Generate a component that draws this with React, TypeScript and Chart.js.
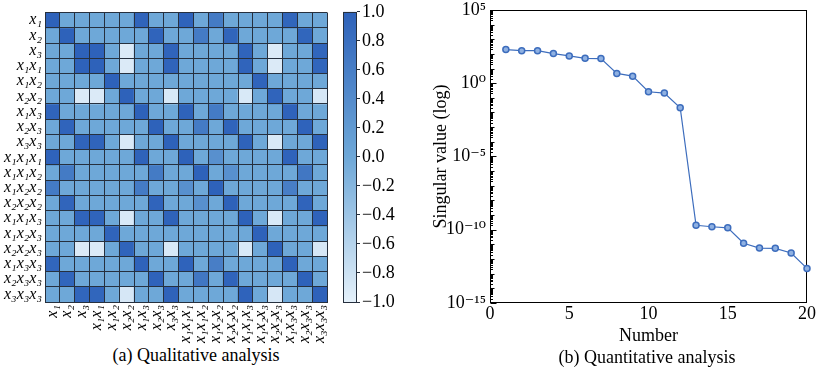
import React, { useEffect, useRef } from "react";
import { Chart, registerables } from "chart.js";

Chart.register(...registerables);

const SERIF = "'Liberation Serif', 'DejaVu Serif', 'Times New Roman', serif";

// ---------- Panel (a): qualitative analysis (correlation heatmap) ----------
const termLabels: string[] = [
  "x₁", "x₂", "x₃", "x₁x₁", "x₁x₂", "x₂x₂", "x₁x₃", "x₂x₃", "x₃x₃",
  "x₁x₁x₁", "x₁x₁x₂", "x₁x₂x₂", "x₂x₂x₂", "x₁x₁x₃", "x₁x₂x₃", "x₂x₂x₃",
  "x₁x₃x₃", "x₂x₃x₃", "x₃x₃x₃",
];

const corrRows: number[][] = [
  [1, 0, 0, 0, 0, 0, 0.97, 0, 0, 0.98, 0, 0.65, 0, 0, 0, 0, 0.95, 0, 0],
  [0, 1, 0, 0, 0, 0, 0, 0.97, 0, 0, 0.65, 0, 0.96, 0, 0, 0, 0, 0.95, 0],
  [0, 0, 1, 1, 0, -0.92, 0, 0, 0.97, 0, 0, 0, 0, 0.97, 0, -0.92, 0, 0, 0.95],
  [0, 0, 1, 1, 0, -0.92, 0, 0, 0.97, 0, 0, 0, 0, 0.97, 0, -0.92, 0, 0, 0.95],
  [0, 0, 0, 0, 1, 0, 0, 0, 0, 0, 0, 0, 0, 0, 0.97, 0, 0, 0, 0],
  [0, 0, -0.92, -0.92, 0, 1, 0, 0, -0.9, 0, 0, 0, 0, -0.9, 0, 0.97, 0, 0, -0.88],
  [0.97, 0, 0, 0, 0, 0, 1, 0, 0, 0.99, 0, 0.65, 0, 0, 0, 0, 0.98, 0, 0],
  [0, 0.97, 0, 0, 0, 0, 0, 1, 0, 0, 0.65, 0, 0.97, 0, 0, 0, 0, 0.98, 0],
  [0, 0, 0.97, 0.97, 0, -0.9, 0, 0, 1, 0, 0, 0, 0, 0.99, 0, -0.9, 0, 0, 0.99],
  [0.98, 0, 0, 0, 0, 0, 0.99, 0, 0, 1, 0, 0.35, 0, 0, 0, 0, 0.98, 0, 0],
  [0, 0.65, 0, 0, 0, 0, 0, 0.65, 0, 0, 1, 0, 0.35, 0, 0, 0, 0, 0.7, 0],
  [0.65, 0, 0, 0, 0, 0, 0.65, 0, 0, 0.35, 0, 1, 0, 0, 0, 0, 0.6, 0, 0],
  [0, 0.96, 0, 0, 0, 0, 0, 0.97, 0, 0, 0.35, 0, 1, 0, 0, 0, 0, 0.97, 0],
  [0, 0, 0.97, 0.97, 0, -0.9, 0, 0, 0.99, 0, 0, 0, 0, 1, 0, -0.9, 0, 0, 0.98],
  [0, 0, 0, 0, 0.97, 0, 0, 0, 0, 0, 0, 0, 0, 0, 1, 0, 0, 0, 0],
  [0, 0, -0.92, -0.92, 0, 0.97, 0, 0, -0.9, 0, 0, 0, 0, -0.9, 0, 1, 0, 0, -0.88],
  [0.95, 0, 0, 0, 0, 0, 0.98, 0, 0, 0.98, 0, 0.6, 0, 0, 0, 0, 1, 0, 0],
  [0, 0.95, 0, 0, 0, 0, 0, 0.98, 0, 0, 0.7, 0, 0.97, 0, 0, 0, 0, 1, 0],
  [0, 0, 0.95, 0.95, 0, -0.88, 0, 0, 0.99, 0, 0, 0, 0, 0.98, 0, -0.88, 0, 0, 1],
];

const colorbarTickValues = [-1, -0.8, -0.6, -0.4, -0.2, 0, 0.2, 0.4, 0.6, 0.8, 1];

// ---------- Panel (b): quantitative analysis (singular values) ----------
const svIndex = [1, 2, 3, 4, 5, 6, 7, 8, 9, 10, 11, 12, 13, 14, 15, 16, 17, 18, 19, 20];
const svValues = [
  195, 166, 166, 105, 72, 50, 48, 4.6, 3.0, 0.26,
  0.21, 0.021, 2.0e-10, 1.6e-10, 1.35e-10, 1.2e-11, 5.6e-12, 5.4e-12, 2.6e-12, 2.3e-13,
];
const xTickValues = [0, 5, 10, 15, 20];
const yMajorExponents = [-15, -10, -5, 0, 5];
const yMajorLabels = ["10⁻¹⁵", "10⁻¹⁰", "10⁻⁵", "10⁰", "10⁵"];
const yDecadeExponents = [-15, -14, -13, -12, -11, -10, -9, -8, -7, -6, -5, -4, -3, -2, -1, 0, 1, 2, 3, 4, 5];
const yMinorSubs = [2, 3, 4, 5, 6, 7, 8, 9];

// ---------- colour map ----------
const cmapStops = [
  { v: -1, c: [228, 240, 250] },
  { v: 0, c: [110, 168, 216] },
  { v: 1, c: [46, 98, 186] },
];
const rgb = (c: number[]) => `rgb(${Math.round(c[0])},${Math.round(c[1])},${Math.round(c[2])})`;
function cmap(v: number): string {
  const x = Math.max(-1, Math.min(1, v));
  for (let i = 0; i < cmapStops.length - 1; i++) {
    const a = cmapStops[i], b = cmapStops[i + 1];
    if (x >= a.v && x <= b.v) {
      const t = (x - a.v) / (b.v - a.v);
      return rgb(a.c.map((ca, j) => ca + (b.c[j] - ca) * t));
    }
  }
  return rgb(cmapStops[cmapStops.length - 1].c);
}

const GRID_COLOR = "#26303e";

const colorbarPlugin = {
  id: "colorbarFill",
  beforeDatasetsDraw(chart: any) {
    const { ctx, chartArea: a, scales } = chart;
    const y = scales.y;
    const yTop = y.getPixelForValue(1);
    const yBot = y.getPixelForValue(-1);
    const g = ctx.createLinearGradient(0, yBot, 0, yTop);
    cmapStops.forEach((s) => g.addColorStop((s.v + 1) / 2, rgb(s.c)));
    ctx.save();
    ctx.fillStyle = g;
    ctx.fillRect(a.left, yTop, a.right - a.left, yBot - yTop);
    ctx.strokeStyle = GRID_COLOR;
    ctx.lineWidth = 1;
    ctx.strokeRect(Math.round(a.left) + 0.5, Math.round(yTop) + 0.5, Math.round(a.right - a.left) - 1, Math.round(yBot - yTop));
    ctx.restore();
  },
};

const framePlugin = {
  id: "frameTicks",
  beforeDatasetsDraw(chart: any) {
    const { ctx, chartArea: a, scales } = chart;
    const y = scales.y;
    ctx.save();
    ctx.strokeStyle = "#000";
    ctx.lineWidth = 1;
    const L = Math.round(a.left) + 0.5;
    const T = Math.round(a.top) + 0.5;
    const R = Math.round(a.right) - 0.5;
    const B = Math.round(a.bottom) - 0.5;
    ctx.strokeRect(L, T, R - L, B - T);
    ctx.beginPath();
    yDecadeExponents.forEach((k) => {
      const major = yMajorExponents.indexOf(k) >= 0;
      const py = Math.round(y.getPixelForValue(Math.pow(10, k))) + 0.5;
      ctx.moveTo(L, py);
      ctx.lineTo(L + (major ? 6 : 4), py);
      if (k < 5) {
        yMinorSubs.forEach((s) => {
          const pm = Math.round(y.getPixelForValue(s * Math.pow(10, k))) + 0.5;
          ctx.moveTo(L, pm);
          ctx.lineTo(L + 2.5, pm);
        });
      }
    });
    ctx.stroke();
    ctx.restore();
  },
};

export default function App() {
  const heatRef = useRef<HTMLCanvasElement | null>(null);
  const barRef = useRef<HTMLCanvasElement | null>(null);
  const lineRef = useRef<HTMLCanvasElement | null>(null);

  useEffect(() => {
    const tickFont = { family: SERIF, size: 16, style: "italic" as const };
    const numFont = { family: SERIF, size: 18, lineHeight: 1.1 };

    const heatDatasets = corrRows.map((row, r) => ({
      label: termLabels[r],
      data: termLabels.map(() => [r - 0.5, r + 0.5]),
      backgroundColor: row.map((v) => cmap(v)),
      borderWidth: 0,
      barPercentage: 1,
      categoryPercentage: 1,
      grouped: false,
    }));

    const heat = new Chart(heatRef.current as HTMLCanvasElement, {
      type: "bar",
      data: { labels: termLabels, datasets: heatDatasets as any },
      options: {
        animation: false,
        responsive: false,
        maintainAspectRatio: false,
        layout: { padding: { top: 10, right: 1, left: 0, bottom: 0 } },
        plugins: { legend: { display: false }, tooltip: { enabled: false } },
        scales: {
          x: {
            type: "category",
            offset: true,
            grid: { offset: true, color: GRID_COLOR, lineWidth: 1, drawTicks: false, z: 1 },
            border: { display: true, color: GRID_COLOR, width: 1, z: 2 },
            ticks: { autoSkip: false, minRotation: 90, maxRotation: 90, padding: 3, color: "#000", font: tickFont },
            afterFit: (s: any) => { s.height = 43; },
          },
          y: {
            type: "linear",
            min: -0.5,
            max: 18.5,
            reverse: true,
            afterBuildTicks: (s: any) => { s.ticks = termLabels.map((_, i) => ({ value: i })); },
            grid: { offset: true, color: GRID_COLOR, lineWidth: 1, drawTicks: false, z: 1 },
            border: { display: true, color: GRID_COLOR, width: 1, z: 2 },
            ticks: {
              autoSkip: false,
              padding: 3,
              color: "#000",
              font: tickFont,
              callback: (v: any) => termLabels[Math.round(Number(v))] ?? "",
            },
            afterFit: (s: any) => { s.width = 45; },
          },
        },
      } as any,
    });

    const bar = new Chart(barRef.current as HTMLCanvasElement, {
      type: "scatter",
      data: { datasets: [] },
      options: {
        animation: false,
        responsive: false,
        maintainAspectRatio: false,
        layout: { padding: { top: 10, bottom: 43, left: 0, right: 0 } },
        plugins: { legend: { display: false }, tooltip: { enabled: false } },
        scales: {
          x: { display: false, min: 0, max: 1 },
          y: {
            position: "right",
            min: -1,
            max: 1,
            afterBuildTicks: (s: any) => { s.ticks = colorbarTickValues.map((v) => ({ value: v })); },
            ticks: {
              padding: 2,
              color: "#000",
              font: numFont,
              callback: (v: any) => {
                const n = Number(v);
                return (n < -1e-9 ? "−" : "") + Math.abs(n).toFixed(1);
              },
            },
            grid: { drawOnChartArea: false, tickLength: 3, color: GRID_COLOR },
            border: { display: false },
            afterFit: (s: any) => { s.width = 48; },
          },
        },
      } as any,
      plugins: [colorbarPlugin],
    });

    const line = new Chart(lineRef.current as HTMLCanvasElement, {
      type: "line",
      data: {
        datasets: [
          {
            data: svIndex.map((x, i) => ({ x, y: svValues[i] })),
            borderColor: "#3d6dbd",
            borderWidth: 1.2,
            pointRadius: 3,
            pointBackgroundColor: "#8fb1e2",
            pointBorderColor: "#3d6dbd",
            pointBorderWidth: 1.5,
            tension: 0,
            clip: false,
          },
        ],
      },
      options: {
        animation: false,
        responsive: false,
        maintainAspectRatio: false,
        layout: { padding: { left: 27, top: 12, right: 12, bottom: 0 } },
        plugins: { legend: { display: false }, tooltip: { enabled: false } },
        scales: {
          x: {
            type: "linear",
            min: 0,
            max: 20,
            afterBuildTicks: (s: any) => { s.ticks = xTickValues.map((v) => ({ value: v })); },
            ticks: { color: "#000", font: numFont, padding: 1 },
            grid: { display: false, drawTicks: false },
            border: { display: false },
            title: { display: true, text: "Number", color: "#000", font: { family: SERIF, size: 18 }, padding: { top: 0, bottom: 1 } },
            afterFit: (s: any) => { s.height = 45; },
          },
          y: {
            type: "logarithmic",
            min: 1e-15,
            max: 1e5,
            afterBuildTicks: (s: any) => { s.ticks = yMajorExponents.map((k) => ({ value: Math.pow(10, k) })); },
            ticks: {
              color: "#000",
              font: numFont,
              padding: 4,
              autoSkip: false,
              callback: (v: any) => {
                const k = Math.round(Math.log10(Number(v)));
                const i = yMajorExponents.indexOf(k);
                return i >= 0 ? yMajorLabels[i] : "";
              },
            },
            grid: { display: false, drawTicks: false },
            border: { display: false },
            title: { display: true, text: "Singular value (log)", color: "#000", font: { family: SERIF, size: 18 }, padding: { top: 3, bottom: 3 } },
            afterFit: (s: any) => { s.width = 63; },
          },
        },
      } as any,
      plugins: [framePlugin],
    });

    return () => {
      heat.destroy();
      bar.destroy();
      line.destroy();
    };
  }, []);

  const caption: React.CSSProperties = {
    position: "absolute",
    width: 300,
    textAlign: "center",
    fontFamily: SERIF,
    fontSize: 18,
    lineHeight: "20px",
    color: "#000",
    whiteSpace: "nowrap",
  };

  return (
    <div style={{ position: "fixed", left: 0, top: 0, width: 819, height: 371, background: "#fff", overflow: "hidden" }}>
      <canvas ref={heatRef} width={342} height={345} style={{ position: "absolute", left: 0, top: 0 }} />
      <canvas ref={barRef} width={62} height={345} style={{ position: "absolute", left: 343, top: 0 }} />
      <canvas ref={lineRef} width={419} height={352} style={{ position: "absolute", left: 400, top: -4 }} />
      <div style={{ ...caption, left: 46, top: 345 }}>(a) Qualitative analysis</div>
      <div style={{ ...caption, left: 497, top: 347 }}>(b) Quantitative analysis</div>
    </div>
  );
}
